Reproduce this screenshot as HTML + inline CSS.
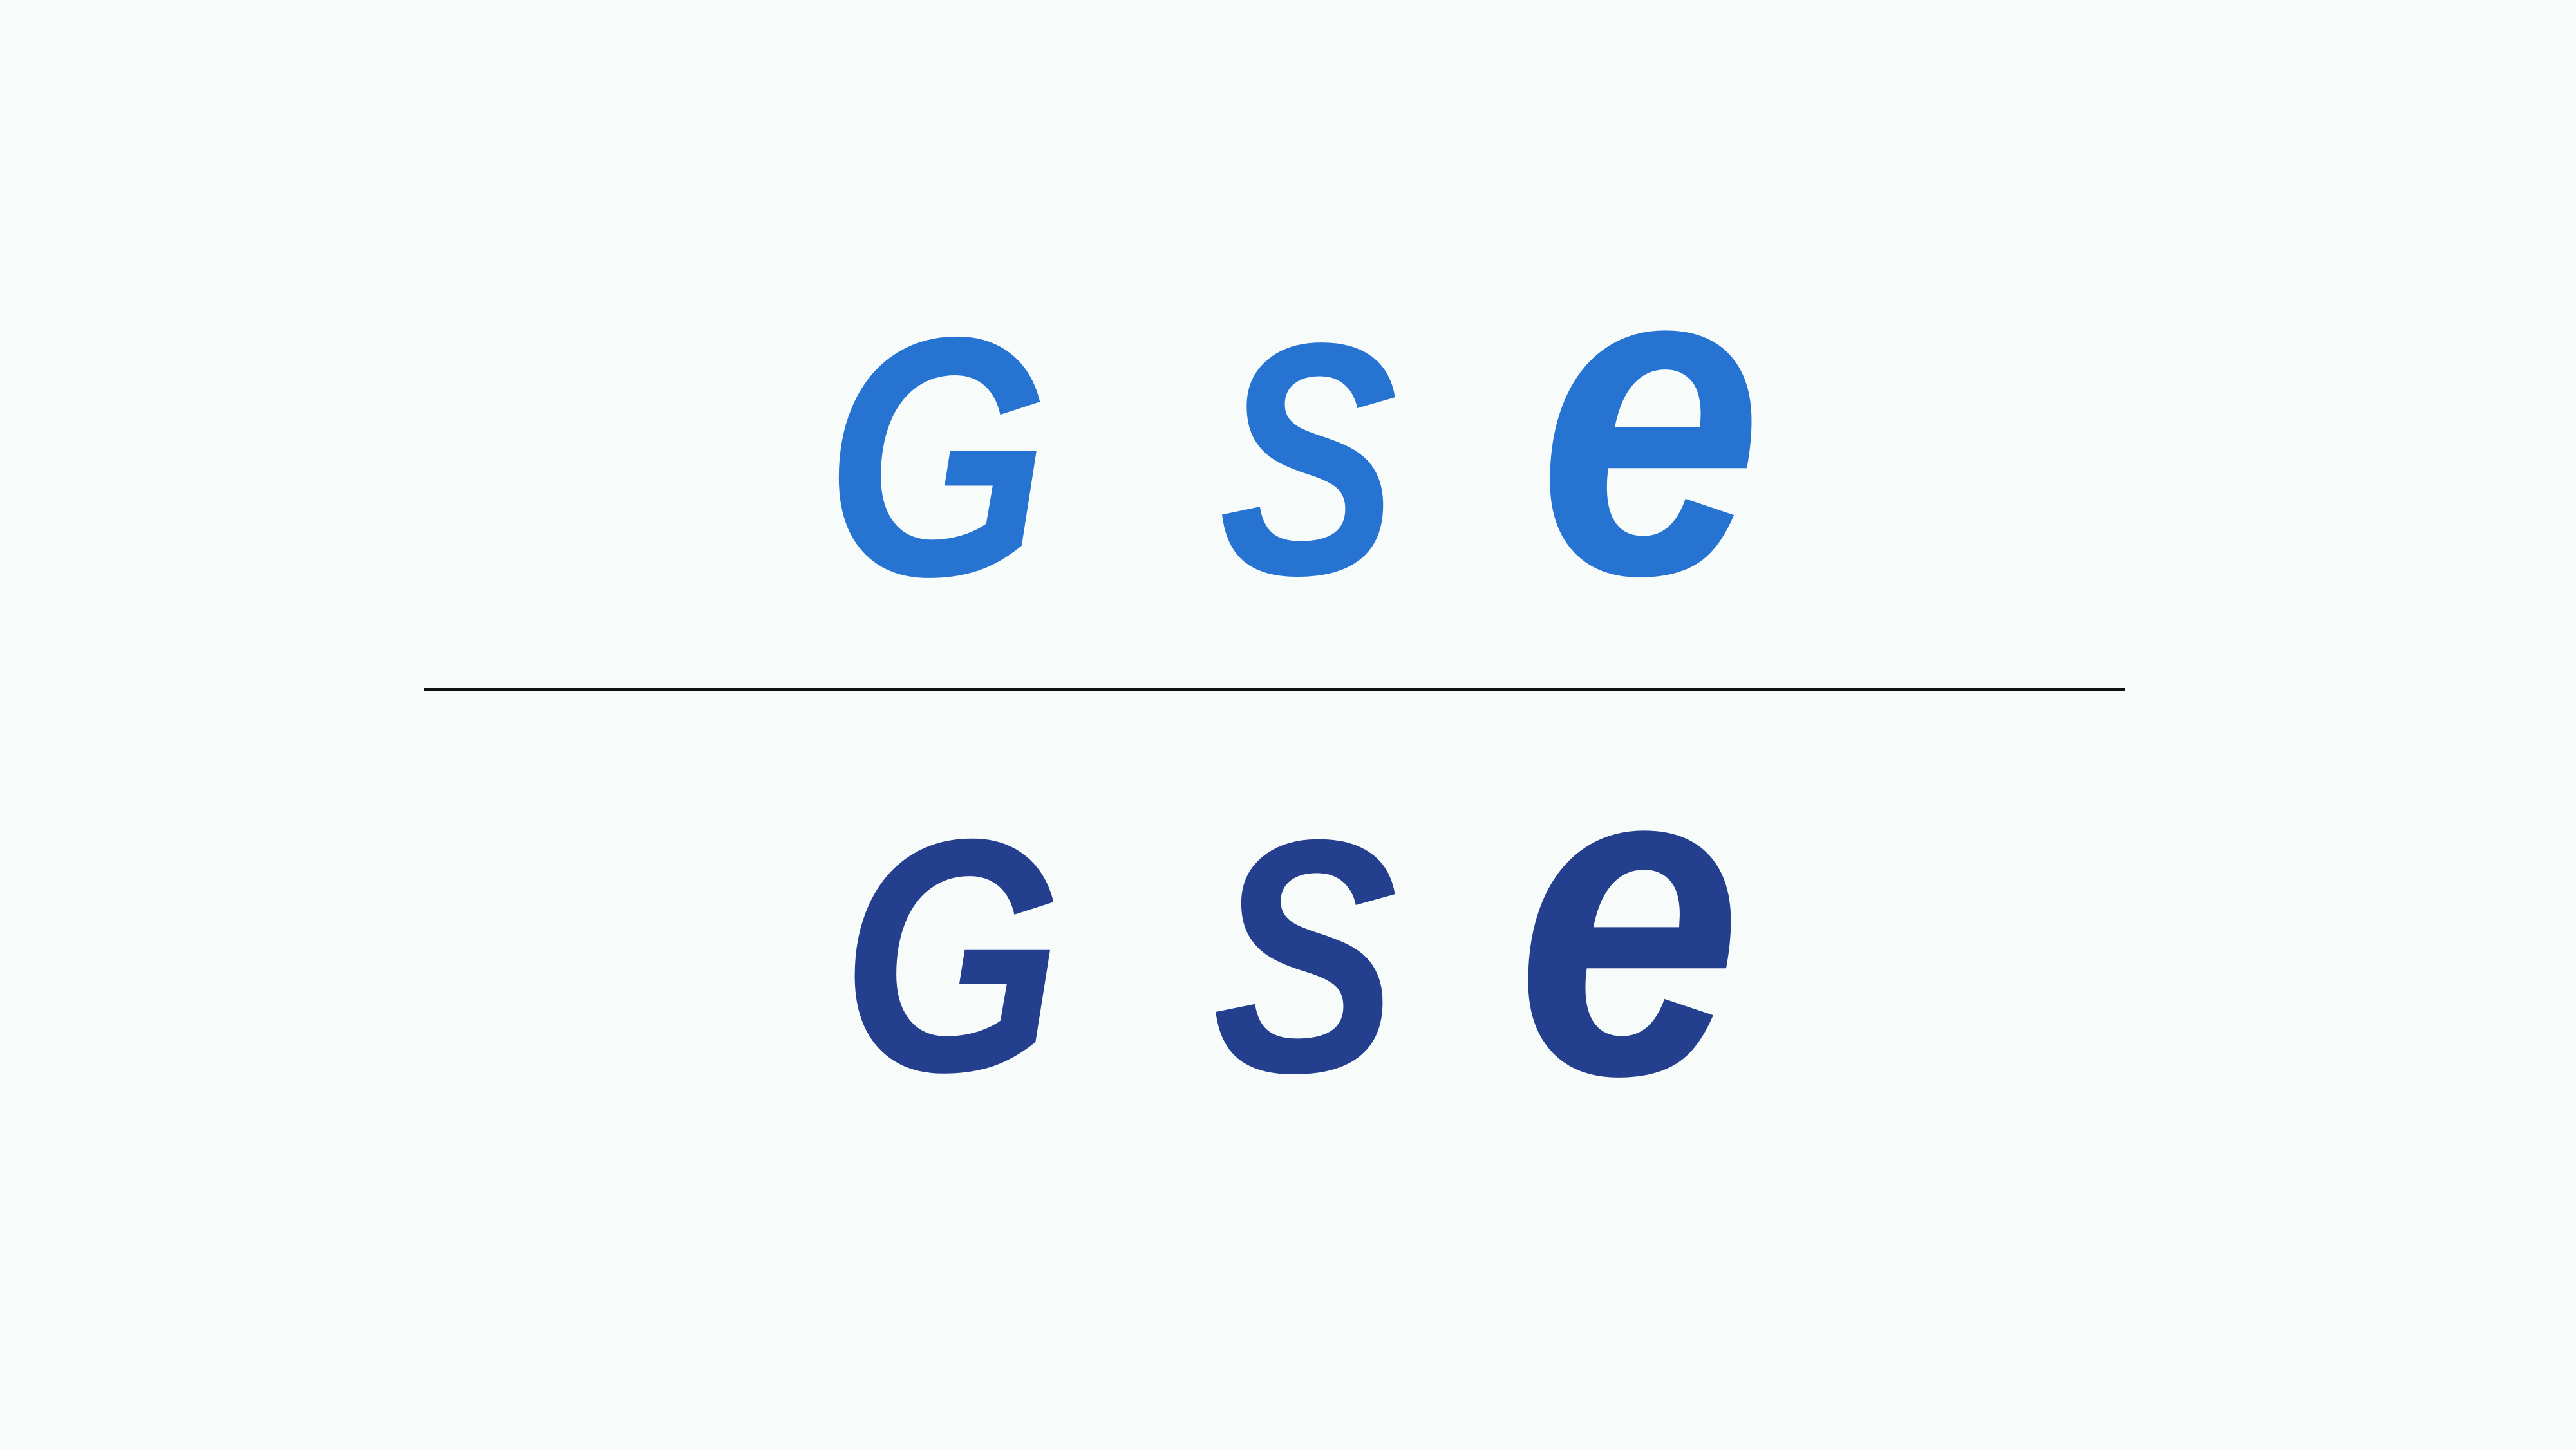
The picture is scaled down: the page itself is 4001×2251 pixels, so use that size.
<!DOCTYPE html>
<html>
<head>
<meta charset="utf-8">
<style>
  html,body{margin:0;padding:0;background:#f7fbfa;}
  svg{display:block;}
  text{font-family:"Liberation Sans",sans-serif;font-weight:bold;font-style:italic;}
</style>
</head>
<body>
<svg width="4001" height="2251" viewBox="0 0 4001 2251">
  <rect width="4001" height="2251" fill="#f7fbfa"/>
  <g fill="#2673d2">
    <text x="1281" y="893" font-size="530" textLength="348" lengthAdjust="spacingAndGlyphs">G</text>
    <text x="1893" y="891" font-size="514" textLength="278" lengthAdjust="spacingAndGlyphs">S</text>
    <text x="2388" y="890" font-size="700" textLength="350" lengthAdjust="spacingAndGlyphs">e</text>
  </g>
  <line x1="658" y1="1071" x2="3300" y2="1071" stroke="#111" stroke-width="4"/>
  <g fill="#243f8e">
    <text x="1306" y="1663" font-size="516" textLength="344" lengthAdjust="spacingAndGlyphs">G</text>
    <text x="1883" y="1664" font-size="516" textLength="288" lengthAdjust="spacingAndGlyphs">S</text>
    <text x="2354" y="1667" font-size="700" textLength="352" lengthAdjust="spacingAndGlyphs">e</text>
  </g>
</svg>
</body>
</html>
